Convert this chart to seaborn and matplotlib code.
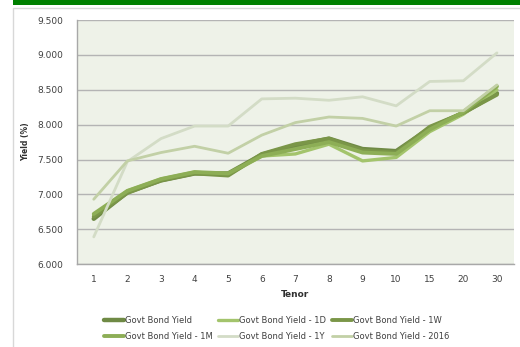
import seaborn as sns
import pandas as pd
import numpy as np
import matplotlib.pyplot as plt
from matplotlib.patches import Rectangle

tenors = ["1", "2", "3", "4", "5", "6", "7", "8", "9", "10", "15", "20", "30"]
yield_now = [6.65, 7.03, 7.20, 7.30, 7.30, 7.57, 7.70, 7.80, 7.65, 7.62, 7.95, 8.17, 8.45]
yield_1d = [6.70, 7.05, 7.22, 7.32, 7.28, 7.55, 7.58, 7.72, 7.48, 7.53, 7.90, 8.15, 8.50]
yield_1w = [6.68, 7.02, 7.20, 7.30, 7.27, 7.58, 7.72, 7.80, 7.63, 7.60, 7.97, 8.17, 8.43]
yield_1m = [6.72, 7.05, 7.22, 7.32, 7.30, 7.55, 7.65, 7.75, 7.60, 7.58, 7.93, 8.18, 8.55]
yield_1y = [6.39, 7.47, 7.80, 7.98, 7.98, 8.37, 8.38, 8.35, 8.40, 8.27, 8.62, 8.63, 9.03]
yield_2016 = [6.93, 7.48, 7.60, 7.69, 7.59, 7.85, 8.03, 8.11, 8.09, 7.98, 8.20, 8.20, 8.57]

series = [
    ("Govt Bond Yield", yield_now, "#6f8a45", 3.2),
    ("Govt Bond Yield - 1D", yield_1d, "#a3c46c", 2.4),
    ("Govt Bond Yield - 1W", yield_1w, "#7a9648", 2.8),
    ("Govt Bond Yield - 1M", yield_1m, "#8dae56", 2.8),
    ("Govt Bond Yield - 1Y", yield_1y, "#d3dcc6", 2.0),
    ("Govt Bond Yield - 2016", yield_2016, "#c2d0a6", 2.0),
]

sns.set_style("white")
plt.rcParams['font.family'] = ['DejaVu Sans']

fig = plt.figure(figsize=(5.2, 3.47), dpi=100)
ax = fig.add_axes([0.148, 0.239, 0.84, 0.703])
ax.set_facecolor("#eef2e8")

pos = np.arange(len(tenors))
for name, vals, col, lw in series:
    df = pd.DataFrame({"pos": pos, "yield": vals})
    sns.lineplot(data=df, x="pos", y="yield", ax=ax, color=col, linewidth=lw,
                 label=name, sort=False)

ax.set_xlim(-0.5, len(tenors) - 0.5)
ax.set_ylim(6.0, 9.5)
ax.set_yticks(np.arange(6.0, 9.51, 0.5))
ax.set_yticklabels([f"{v:.3f}" for v in np.arange(6.0, 9.51, 0.5)])
ax.set_xticks(pos)
ax.set_xticklabels(tenors)
ax.set_xticks(np.arange(-0.5, len(tenors), 1), minor=True)
ax.tick_params(axis="x", which="major", length=0, labelsize=6.5, colors="#404040", pad=8)
ax.tick_params(axis="x", which="minor", length=4, color="#a0a0a0", direction="out")
ax.tick_params(axis="y", length=4, color="#a0a0a0", labelsize=6.5, colors="#404040", pad=6)
ax.yaxis.grid(True, color="#b4b4b4", linewidth=1.0)
ax.set_axisbelow(True)
for s in ["top", "right"]:
    ax.spines[s].set_visible(False)
for s in ["left", "bottom"]:
    ax.spines[s].set_color("#a8a8a8")
    ax.spines[s].set_linewidth(1.0)

ax.set_xlabel("Tenor", fontsize=6.5, fontweight="bold", color="#303030", labelpad=4)
ax.set_ylabel("Yield (%)", fontsize=5.5, fontweight="bold", color="#303030", labelpad=5)

leg = ax.get_legend()
if leg:
    leg.remove()
handles, labels = ax.get_legend_handles_labels()
order = [0, 3, 1, 4, 2, 5]
fig.legend([handles[i] for i in order], [labels[i] for i in order],
           loc="upper left", bbox_to_anchor=(0.185, 0.112), ncol=3, frameon=False,
           fontsize=6, handlelength=2.4, handletextpad=0.1, columnspacing=0.7,
           labelspacing=0.9, labelcolor="#404040")

# green header bar and frame
fig.patches.append(Rectangle((0.025, 0.985), 0.975, 0.015, transform=fig.transFigure,
                             facecolor="#008000", edgecolor="none"))
fig.patches.append(Rectangle((0.025, -0.01), 1.0, 0.987, transform=fig.transFigure,
                             facecolor="none", edgecolor="#d8d8d8", linewidth=1.0))

plt.savefig("out.png", dpi=100)
